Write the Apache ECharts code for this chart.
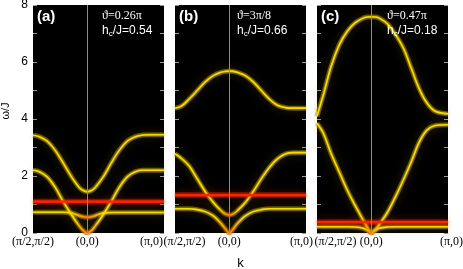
<!DOCTYPE html>
<html><head><meta charset="utf-8">
<script src="https://cdn.jsdelivr.net/npm/echarts@6/dist/echarts.min.js"></script>
<style>html,body{margin:0;padding:0;background:#fff}#c{width:463px;height:269px}</style>
</head><body><div id="c"></div>
<script>
// k-path coordinate: (pi/2,pi/2) -> (0,0) -> (pi,0)
const kPath = [0, 0.26, 0.58, 0.91, 1.24, 1.57, 1.89, 2.06, 2.2214, 2.39, 2.55, 2.88, 3.20, 3.53, 3.86, 4.19, 4.51, 4.84, 5.3629];
const kEnds = [0, 5.3629];
const kGamma = 2.2214;
const kTickValues = [0, 2.2214, 5.3629];
const kTickLabels = ['(π/2,π/2)', '(0,0)', '(π,0)'];
const omegaLabelTicks = [0, 2, 4, 6, 8];

// panel (a)
const aUpper  = [3.43,3.38,3.22,2.90,2.45,1.98,1.60,1.49,1.45,1.49,1.60,1.98,2.45,2.90,3.22,3.38,3.44,3.45,3.45];
const aMiddle = [2.20,2.15,1.97,1.60,1.10,0.65,0.25,0.08,0.00,0.08,0.25,0.65,1.10,1.60,1.97,2.15,2.20,2.20,2.20];
const aLower  = [0.73,0.73,0.73,0.73,0.73,0.70,0.61,0.57,0.55,0.57,0.61,0.70,0.72,0.72,0.72,0.72,0.72,0.72,0.72];
const aFlat   = [1.10,1.10];
// panel (b)
const bUpper  = [4.38,4.45,4.70,5.00,5.30,5.52,5.64,5.67,5.68,5.67,5.64,5.52,5.30,5.00,4.70,4.48,4.40,4.38,4.38];
const bMiddle = [2.78,2.62,2.35,1.90,1.45,1.07,0.78,0.67,0.63,0.67,0.78,1.07,1.45,1.90,2.30,2.60,2.77,2.82,2.82];
const bLower  = [0.85,0.85,0.85,0.82,0.75,0.60,0.33,0.15,0.00,0.15,0.33,0.60,0.75,0.82,0.85,0.85,0.85,0.85,0.85];
const bFlat   = [1.33,1.33];
// panel (c)
const cUpper  = [4.10,4.85,5.85,6.60,7.08,7.38,7.54,7.58,7.59,7.58,7.54,7.34,6.98,6.50,5.78,5.05,4.55,4.27,4.18];
const cMiddle = [3.85,3.50,2.78,2.14,1.50,0.95,0.45,0.20,0.00,0.12,0.30,0.72,1.25,1.85,2.50,3.20,3.62,3.77,3.80];
const cLower  = [0.22,0.22,0.22,0.22,0.22,0.21,0.17,0.10,0.04,0.10,0.17,0.21,0.22,0.22,0.22,0.22,0.22,0.22,0.22];
const cFlat   = [0.38,0.38];

const panels = [
  {label:'(a)', theta:'ϑ=0.26π', hc:'0.54', curves:[[aUpper,0],[aMiddle,0.09],[aLower,0.12]], flat:aFlat},
  {label:'(b)', theta:'ϑ=3π/8',  hc:'0.66', curves:[[bUpper,0],[bMiddle,0.08],[bLower,0.10]], flat:bFlat},
  {label:'(c)', theta:'ϑ=0.47π', hc:'0.18', curves:[[cUpper,0],[cMiddle,0.08],[cLower,0.05]], flat:cFlat}
];
const gridLefts = [33, 175, 317];
const labelShift = [[0,0,-25],[19,0,-9],[37,0,7]]; // padding to place k labels
const fc = kGamma / kEnds[1];

function grad(edge, mid, half) {
  if (!half) return edge;
  return new echarts.graphic.LinearGradient(0, 0, 1, 0, [
    {offset:0, color:edge},{offset:Math.max(0,fc-half), color:edge},
    {offset:fc, color:mid},{offset:Math.min(1,fc+half), color:edge},{offset:1, color:edge}]);
}

const grids = [], xAxes = [], yAxes = [], series = [], titles = [];
panels.forEach((p, i) => {
  grids.push({left:gridLefts[i], top:5, width:131, height:228, show:true, backgroundColor:'#000', borderWidth:0,
    containLabel:false, outerBoundsMode:'none'});
  const rich = {};
  kTickLabels.forEach((t, j) => {
    const s = labelShift[i][j];
    rich['l'+j] = {fontFamily:'Liberation Serif', fontSize:12, color:'#000',
      padding: s >= 0 ? [0,0,0,s] : [0,-s,0,0]};
  });
  xAxes.push({gridIndex:i, type:'value', min:kEnds[0], max:kEnds[1],
    axisLine:{show:false}, axisTick:{show:false}, splitLine:{show:false},
    axisLabel:{customValues:kTickValues, margin:3, showMinLabel:true, showMaxLabel:true, hideOverlap:false,
      formatter:(v)=>{const j = kTickValues.findIndex(t=>Math.abs(t-v)<1e-3); return j<0?'':'{l'+j+'|'+kTickLabels[j]+'}';},
      rich:rich},
    name: i===1 ? 'k' : '', nameLocation:'middle', nameGap:24,
    nameTextStyle:{fontFamily:'Liberation Sans', fontSize:13, color:'#000'}});
  yAxes.push({gridIndex:i, type:'value', min:0, max:8, interval:1,
    axisLine:{show:false}, splitLine:{show:false},
    axisTick:{inside:true, length:4, lineStyle:{color:'#9a9a9a'}},
    axisLabel:{show:i===0, margin:5, color:'#000', fontFamily:'Liberation Sans', fontSize:12,
      formatter:(v)=>omegaLabelTicks.includes(v)?String(v):''},
    name: i===0 ? 'ω/J' : '', nameLocation:'middle', nameGap:22, nameRotate:90,
    nameTextStyle:{fontFamily:'Liberation Sans', fontSize:11, color:'#000', padding:[0,0,0,16]}});
  yAxes.push({gridIndex:i, type:'value', position:'right', min:0, max:8, interval:1,
    axisLine:{show:false}, splitLine:{show:false}, axisLabel:{show:false},
    axisTick:{inside:true, length:4, lineStyle:{color:'#9a9a9a'}}});
  const yi = i*2;
  // vertical line at Gamma
  series.push({type:'line', xAxisIndex:i, yAxisIndex:yi, data:[], symbol:'none', z:1, silent:true,
    markLine:{silent:true, symbol:'none', label:{show:false}, lineStyle:{color:'#8c8c8c', width:1, type:'solid'},
      data:[{xAxis:kGamma}]}});
  p.curves.forEach(([vals, half]) => {
    const d = kPath.map((k, j) => [k, vals[j]]);
    series.push({type:'line', xAxisIndex:i, yAxisIndex:yi, data:d, symbol:'none', smooth:0.35, z:2, silent:true,
      lineStyle:{width:5, color:grad('rgba(160,130,0,0.5)','rgba(200,80,0,0.55)',half), shadowBlur:10, shadowColor:'rgba(140,110,0,0.55)'}});
    series.push({type:'line', xAxisIndex:i, yAxisIndex:yi, data:d, symbol:'none', smooth:0.35, z:3, silent:true,
      lineStyle:{width:1.6, color:grad('#f5dc00','#ff7a00',half), shadowBlur:2, shadowColor:'rgba(255,220,0,0.8)'}});
  });
  const fd = kEnds.map((k, j) => [k, p.flat[j]]);
  series.push({type:'line', xAxisIndex:i, yAxisIndex:yi, data:fd, symbol:'none', z:2, silent:true,
    lineStyle:{width:6, color:'rgba(200,30,0,0.45)', shadowBlur:8, shadowColor:'rgba(200,40,0,0.6)'}});
  series.push({type:'line', xAxisIndex:i, yAxisIndex:yi, data:fd, symbol:'none', z:3, silent:true,
    lineStyle:{width:2.2, color:'#ff2400', shadowBlur:2, shadowColor:'rgba(255,40,0,0.9)'}});

  const gl = gridLefts[i];
  titles.push({text:p.label, left:gl+4, top:9, padding:0,
    textStyle:{color:'#fff', fontFamily:'Liberation Sans', fontWeight:'bold', fontSize:15}});
  const ax = [102, 237, 387][i];
  titles.push({text:p.theta, left:ax, top:10, padding:0,
    textStyle:{color:'#fff', fontFamily:'Liberation Serif', fontSize:12, fontWeight:'normal'}});
  titles.push({text:'{n|h}{s|c}{n|/J='+p.hc+'}', left:ax, top:24, padding:0,
    textStyle:{color:'#fff', fontWeight:'normal', rich:{
      n:{color:'#fff', fontFamily:'Liberation Sans', fontSize:12, lineHeight:14},
      s:{color:'#fff', fontFamily:'Liberation Sans', fontSize:8, lineHeight:14, padding:[6,0,0,0]}}}});
});

const chart = echarts.init(document.getElementById('c'), null, {renderer:'canvas'});
chart.setOption({animation:false, backgroundColor:'#fff', title:titles, grid:grids, xAxis:xAxes, yAxis:yAxes, series:series});
</script></body></html>
